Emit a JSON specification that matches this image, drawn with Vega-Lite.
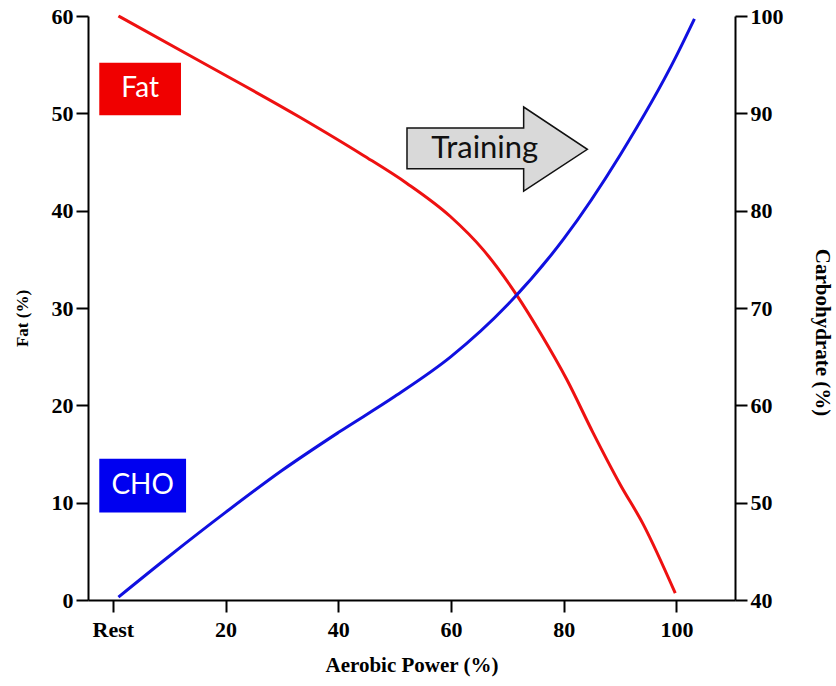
{
  "$schema": "https://vega.github.io/schema/vega-lite/v6.json",
  "autosize": {"type": "none"},
  "width": 647,
  "height": 584,
  "padding": {"left": 88, "top": 16, "right": 101, "bottom": 86},
  "background": "white",
  "config": {
    "view": {"stroke": null},
    "axis": {
      "domainColor": "black", "domainWidth": 2, "tickColor": "black", "tickWidth": 2, "tickSize": 12,
      "labelFont": "Liberation Serif", "labelFontWeight": "bold", "labelFontSize": 22, "labelColor": "black",
      "titleFont": "Liberation Serif", "titleFontWeight": "bold", "titleFontSize": 21, "titleColor": "black",
      "grid": false
    }
  },
  "datasets": {
    "fat": [
      {"x": 1, "v": 60}, {"x": 15, "v": 55.5}, {"x": 33.2, "v": 49.6}, {"x": 44.4, "v": 45.7},
      {"x": 52.2, "v": 42.8}, {"x": 59.9, "v": 39.4}, {"x": 65.7, "v": 36.0}, {"x": 71.7, "v": 31.3},
      {"x": 76, "v": 27.3}, {"x": 80.6, "v": 22.6}, {"x": 85.2, "v": 17.2}, {"x": 90.0, "v": 11.9},
      {"x": 94.1, "v": 7.8}, {"x": 99.8, "v": 0.7}
    ],
    "cho": [
      {"x": 1, "v": 40.3}, {"x": 10, "v": 44.5}, {"x": 20, "v": 49.0}, {"x": 30, "v": 53.3},
      {"x": 40, "v": 57.2}, {"x": 50, "v": 60.9}, {"x": 60, "v": 65.0}, {"x": 70, "v": 70.3},
      {"x": 80, "v": 77.1}, {"x": 90, "v": 85.7}, {"x": 100, "v": 95.9}, {"x": 103.2, "v": 99.7}
    ],
    "boxes": [
      {"label": "Fat", "x": -2.4, "x2": 12.1, "y": 49.8, "y2": 55.2, "tx": 4.85, "ty": 52.5, "c": "fat"},
      {"label": "CHO", "x": -2.4, "x2": 13.0, "y": 9.0, "y2": 14.5, "tx": 5.3, "ty": 11.75, "c": "cho"}
    ],
    "arrow": [
      {"x": 52.2, "lo": 44.3, "hi": 48.5},
      {"x": 72.9, "lo": 44.3, "hi": 48.5},
      {"x": 72.9, "lo": 42.0, "hi": 50.65},
      {"x": 84.2, "lo": 46.3, "hi": 46.3}
    ],
    "arrowText": [{"label": "Training", "x": 66.0, "y": 46.3}]
  },
  "layer": [
    {
      "layer": [
        {
          "data": {"name": "fat"},
          "mark": {"type": "line", "color": "#ee1111", "strokeWidth": 3, "interpolate": "monotone"},
          "encoding": {
            "x": {"field": "x", "type": "quantitative", "scale": {"domain": [-4.4, 110.4], "nice": false, "zero": false},
              "axis": {"title": "Aerobic Power (%)", "values": [0, 20, 40, 60, 80, 100], "labelExpr": "datum.value == 0 ? 'Rest' : datum.label", "titlePadding": 14, "labelPadding": 7}},
            "y": {"field": "v", "type": "quantitative", "scale": {"domain": [0, 60], "nice": false},
              "axis": {"title": "Fat (%)", "titleFontSize": 17, "titleY": 302, "orient": "left", "values": [0, 10, 20, 30, 40, 50, 60], "titlePadding": 20, "labelPadding": 3}}
          }
        },
        {
          "data": {"name": "boxes"},
          "mark": {"type": "rect"},
          "encoding": {
            "x": {"field": "x", "type": "quantitative"},
            "x2": {"field": "x2"},
            "y": {"field": "y", "type": "quantitative"},
            "y2": {"field": "y2"},
            "fill": {"field": "c", "type": "nominal", "scale": {"domain": ["fat", "cho"], "range": ["#f00000", "#0000f0"]}, "legend": null}
          }
        },
        {
          "data": {"name": "boxes"},
          "mark": {"type": "text", "color": "white", "font": "Lato", "fontSize": 28, "align": "center", "baseline": "middle"},
          "encoding": {
            "x": {"field": "tx", "type": "quantitative"},
            "y": {"field": "ty", "type": "quantitative"},
            "text": {"field": "label"}
          }
        },
        {
          "data": {"name": "arrow"},
          "mark": {"type": "area", "fill": "#d9d9d9", "stroke": "#111111", "strokeWidth": 1.5, "fillOpacity": 1},
          "encoding": {
            "x": {"field": "x", "type": "quantitative"},
            "y": {"field": "hi", "type": "quantitative"},
            "y2": {"field": "lo"}
          }
        },
        {
          "data": {"name": "arrowText"},
          "mark": {"type": "text", "color": "#111111", "font": "Lato", "fontSize": 31, "align": "center", "baseline": "middle"},
          "encoding": {
            "x": {"field": "x", "type": "quantitative"},
            "y": {"field": "y", "type": "quantitative"},
            "text": {"field": "label"}
          }
        }
      ]
    },
    {
      "data": {"name": "cho"},
      "mark": {"type": "line", "color": "#1010e0", "strokeWidth": 3, "interpolate": "monotone"},
      "encoding": {
        "x": {"field": "x", "type": "quantitative"},
        "y": {"field": "v", "type": "quantitative", "scale": {"domain": [40, 100], "nice": false, "zero": false},
          "axis": {"title": "Carbohydrate (%)", "titleFontSize": 21, "titleY": 316, "orient": "right", "values": [40, 50, 60, 70, 80, 90, 100], "titlePadding": 28, "labelPadding": 3}}
      }
    }
  ],
  "resolve": {"scale": {"y": "independent"}}
}
